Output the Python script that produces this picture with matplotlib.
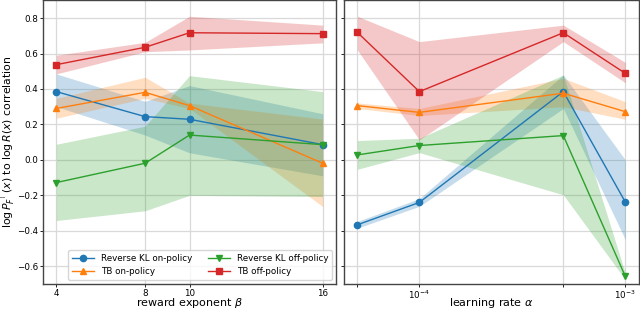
import numpy as np
import matplotlib.pyplot as plt
from matplotlib.ticker import NullLocator

# reward exponent sweep (left)
beta = [4, 8, 10, 16]
beta_kl_on = [0.385, 0.244, 0.229, 0.086]
beta_kl_on_lo = [0.30, 0.14, 0.04, -0.09]
beta_kl_on_hi = [0.485, 0.33, 0.419, 0.26]
beta_tb_on = [0.29, 0.381, 0.306, -0.019]
beta_tb_on_lo = [0.235, 0.347, 0.29, -0.263]
beta_tb_on_hi = [0.347, 0.466, 0.32, 0.23]
beta_kl_off = [-0.128, -0.019, 0.14, 0.086]
beta_kl_off_lo = [-0.342, -0.287, -0.2, -0.207]
beta_kl_off_hi = [0.088, 0.19, 0.475, 0.385]
beta_tb_off = [0.537, 0.635, 0.717, 0.712]
beta_tb_off_lo = [0.485, 0.61, 0.62, 0.66]
beta_tb_off_hi = [0.59, 0.663, 0.81, 0.76]

# learning rate sweep (right)
lr = [5e-5, 1e-4, 5e-4, 1e-3]
lr_kl_on = [-0.366, -0.24, 0.385, -0.238]
lr_kl_on_lo = [-0.385, -0.262, 0.29, -0.45]
lr_kl_on_hi = [-0.347, -0.218, 0.479, 0.0]
lr_tb_on = [0.306, 0.268, 0.376, 0.272]
lr_tb_on_lo = [0.29, 0.25, 0.30, 0.229]
lr_tb_on_hi = [0.321, 0.29, 0.46, 0.328]
lr_kl_off = [0.028, 0.081, 0.137, -0.657]
lr_kl_off_lo = [-0.053, 0.041, -0.197, -0.675]
lr_kl_off_hi = [0.109, 0.122, 0.479, -0.64]
lr_tb_off = [0.719, 0.385, 0.717, 0.488]
lr_tb_off_lo = [0.62, 0.113, 0.667, 0.435]
lr_tb_off_hi = [0.81, 0.667, 0.76, 0.55]

labels = ['Reverse KL on-policy', 'TB on-policy', 'Reverse KL off-policy', 'TB off-policy']
markers = ['o', '^', 'v', 's']
colors = ['C0', 'C1', 'C2', 'C3']

fig = plt.figure(figsize=(6.4, 3.13), dpi=100)
ax1 = fig.add_axes([0.0672, 0.0927, 0.4578, 0.9063])
ax2 = fig.add_axes([0.5375, 0.0927, 0.4605, 0.9063], sharey=ax1)

left = [(beta_kl_on, beta_kl_on_lo, beta_kl_on_hi), (beta_tb_on, beta_tb_on_lo, beta_tb_on_hi),
        (beta_kl_off, beta_kl_off_lo, beta_kl_off_hi), (beta_tb_off, beta_tb_off_lo, beta_tb_off_hi)]
right = [(lr_kl_on, lr_kl_on_lo, lr_kl_on_hi), (lr_tb_on, lr_tb_on_lo, lr_tb_on_hi),
         (lr_kl_off, lr_kl_off_lo, lr_kl_off_hi), (lr_tb_off, lr_tb_off_lo, lr_tb_off_hi)]

for ax, xs, series in [(ax1, beta, left), (ax2, lr, right)]:
    for (m, lo, hi), lab, mk, c in zip(series, labels, markers, colors):
        ax.plot(xs, m, marker=mk, color=c, label=lab, lw=1.0, markersize=4.5)
        ax.fill_between(xs, lo, hi, color=c, alpha=0.25, lw=0)
    ax.grid(True, color='#d9d9d9', lw=0.9)
    ax.set_axisbelow(True)
    ax.tick_params(labelsize=6.3, length=2, width=0.6, pad=1.5)
    for s in ax.spines.values():
        s.set_color('#444444')
        s.set_linewidth(1.0)

ax1.set_ylim(-0.7, 0.9)
ax1.set_yticks([-0.6, -0.4, -0.2, 0.0, 0.2, 0.4, 0.6, 0.8])
ax1.set_xticks(beta)
ax1.set_xlabel(r'reward exponent $\beta$', fontsize=8)
ax1.set_ylabel(r'$\log P_F^{\top}(x)$ to $\log R(x)$ correlation', fontsize=7.8)
ax1.xaxis.set_label_coords(0.5, -0.044)
ax1.yaxis.set_label_coords(-0.088, 0.5)

ax2.set_xscale('log')
ax2.set_xticks(lr)
ax2.set_xticklabels(['', r'$10^{-4}$', '', r'$10^{-3}$'])
ax2.xaxis.set_minor_locator(NullLocator())
ax2.tick_params(labelleft=False)
ax2.set_xlabel(r'learning rate $\alpha$', fontsize=8)
ax2.xaxis.set_label_coords(0.5, -0.044)

ax1.legend(loc='lower right', ncol=2, fontsize=6.3, handlelength=2.5, columnspacing=1.8,
           borderaxespad=0.5)

fig.savefig('out.png', dpi=100)
